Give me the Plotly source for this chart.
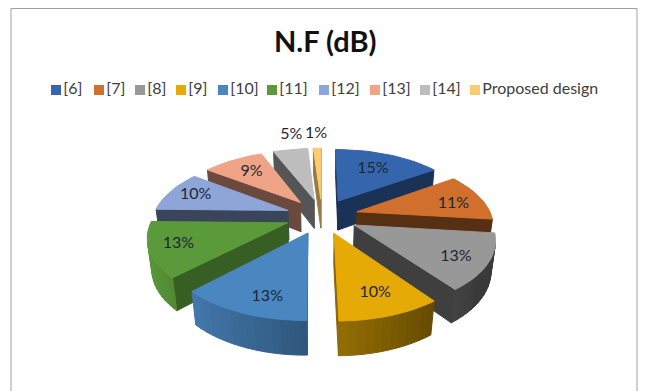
import math
import plotly.graph_objects as go

categories = ["[6]", "[7]", "[8]", "[9]", "[10]", "[11]", "[12]", "[13]", "[14]", "Proposed design"]
values = [15.4, 11.4, 13.1, 9.9, 12.6, 12.9, 9.8, 8.8, 5.0, 1.1]
colors = ["#3565ad", "#d0702c", "#989898", "#e5aa05", "#4a86c0", "#5b9a3a", "#8ea5d8", "#efa488", "#bdbdbd", "#fbcb72"]
wall_factors = [0.5, 0.42, 0.42, 0.6, 0.7, 0.62, 0.42, 0.45, 0.45, 0.6]
label_radius = [0.66, 0.76, 0.79, 0.76, 0.80, 0.80, 0.78, 0.70, 1.34, 1.34]
label_turn = [0, 4, 3, 0, -5, 0, 0, 0, 3, 0]

# projection of the pie
R_EXPLODE = 0.27
HEIGHT = 0.26
DIST = 5.0
FOCAL = 673.0
ELEV = math.radians(29)
CX, CY = 322.0, 216.0


def project(x, y, z):
    w = DIST + y * math.cos(ELEV) - z * math.sin(ELEV)
    return CX + FOCAL * x / w, CY - FOCAL * (y * math.sin(ELEV) + z * math.cos(ELEV)) / w


def shade(hex_color, f):
    r, g, b = (int(hex_color[i:i + 2], 16) for i in (1, 3, 5))
    return "rgb(%d,%d,%d)" % (r * f, g * f, b * f)


def area(poly):
    return sum(poly[i][0] * poly[(i + 1) % len(poly)][1] - poly[(i + 1) % len(poly)][0] * poly[i][1]
               for i in range(len(poly))) / 2


fig = go.Figure()


def add_poly(poly, color):
    xs = [p[0] for p in poly] + [poly[0][0]]
    ys = [p[1] for p in poly] + [poly[0][1]]
    fig.add_trace(go.Scatter(x=xs, y=ys, mode="lines", fill="toself", fillcolor=color,
                             line=dict(color=color, width=1), hoverinfo="skip", showlegend=False))


total = sum(values)
slices = []
cum = 0
for i, v in enumerate(values):
    a0 = 2 * math.pi * cum / total
    a1 = 2 * math.pi * (cum + v) / total
    cum += v
    mid = (a0 + a1) / 2
    slices.append((math.cos(mid) * R_EXPLODE, i, a0, a1, mid))

labels = []
for _, i, a0, a1, mid in sorted(slices, key=lambda s: -s[0]):
    ox, oy = math.sin(mid) * R_EXPLODE, math.cos(mid) * R_EXPLODE
    n = max(2, int((a1 - a0) / 0.05))
    angs = [a0 + (a1 - a0) * k / n for k in range(n + 1)]
    pt = lambda a, r, z: project(ox + r * math.sin(a), oy + r * math.cos(a), z)
    col = colors[i]
    # radial walls, drawn only when they face the viewer
    for quad in ([pt(a0, 0, 0), pt(a0, 1, 0), pt(a0, 1, -HEIGHT), pt(a0, 0, -HEIGHT)],
                 [pt(a1, 1, 0), pt(a1, 0, 0), pt(a1, 0, -HEIGHT), pt(a1, 1, -HEIGHT)]):
        if area(quad) < 0:
            add_poly(quad, shade(col, wall_factors[i]))
    # outer rim
    for k in range(n):
        quad = [pt(angs[k + 1], 1, 0), pt(angs[k], 1, 0), pt(angs[k], 1, -HEIGHT), pt(angs[k + 1], 1, -HEIGHT)]
        if area(quad) > 0:
            am = (angs[k] + angs[k + 1]) / 2
            f = min(0.98, max(0.38, 0.65 - 0.35 * math.sin(am)))
            add_poly(quad, shade(col, f))
    # top
    add_poly([project(ox, oy, 0)] + [pt(a, 1, 0) for a in angs], col)
    la = mid + math.radians(label_turn[i])
    labels.append((i, project(ox + label_radius[i] * math.sin(la), oy + label_radius[i] * math.cos(la), 0)))

# percentage labels
fig.add_trace(go.Scatter(x=[p[1][0] for p in labels], y=[p[1][1] for p in labels],
                         text=["%.0f%%" % values[p[0]] for p in labels], mode="text",
                         textfont=dict(family="Lato", size=16, color="#1c2733"),
                         hoverinfo="skip", showlegend=False))

# legend row
legend_left = [51, 94, 135, 176, 218, 267, 319, 370, 420, 470]
for left, name, col in zip(legend_left, categories, colors):
    fig.add_trace(go.Scatter(x=[left + 5], y=[90], mode="markers+text", text=[name], textposition="middle right",
                             marker=dict(symbol="square", size=10, color=col),
                             textfont=dict(family="Lato", size=16, color="#404040"),
                             hoverinfo="skip", showlegend=False))

# the browser page keeps an 8px margin, so the axes start at 8
fig.update_layout(
    width=641, height=383, margin=dict(l=0, r=0, t=0, b=0),
    paper_bgcolor="white", plot_bgcolor="white", showlegend=False,
    xaxis=dict(range=[8, 649], visible=False),
    yaxis=dict(range=[391, 8], visible=False),
    annotations=[dict(x=325, y=40, xref="x", yref="y", text="<b>N.F (dB)</b>", showarrow=False,
                      font=dict(family="Lato", size=29, color="#111111"))],
    shapes=[dict(type="rect", x0=11, x1=637, y0=8.5, y1=400, xref="x", yref="y",
                 line=dict(color="#a0a0a0", width=1))],
)
fig.write_html("out.html")
